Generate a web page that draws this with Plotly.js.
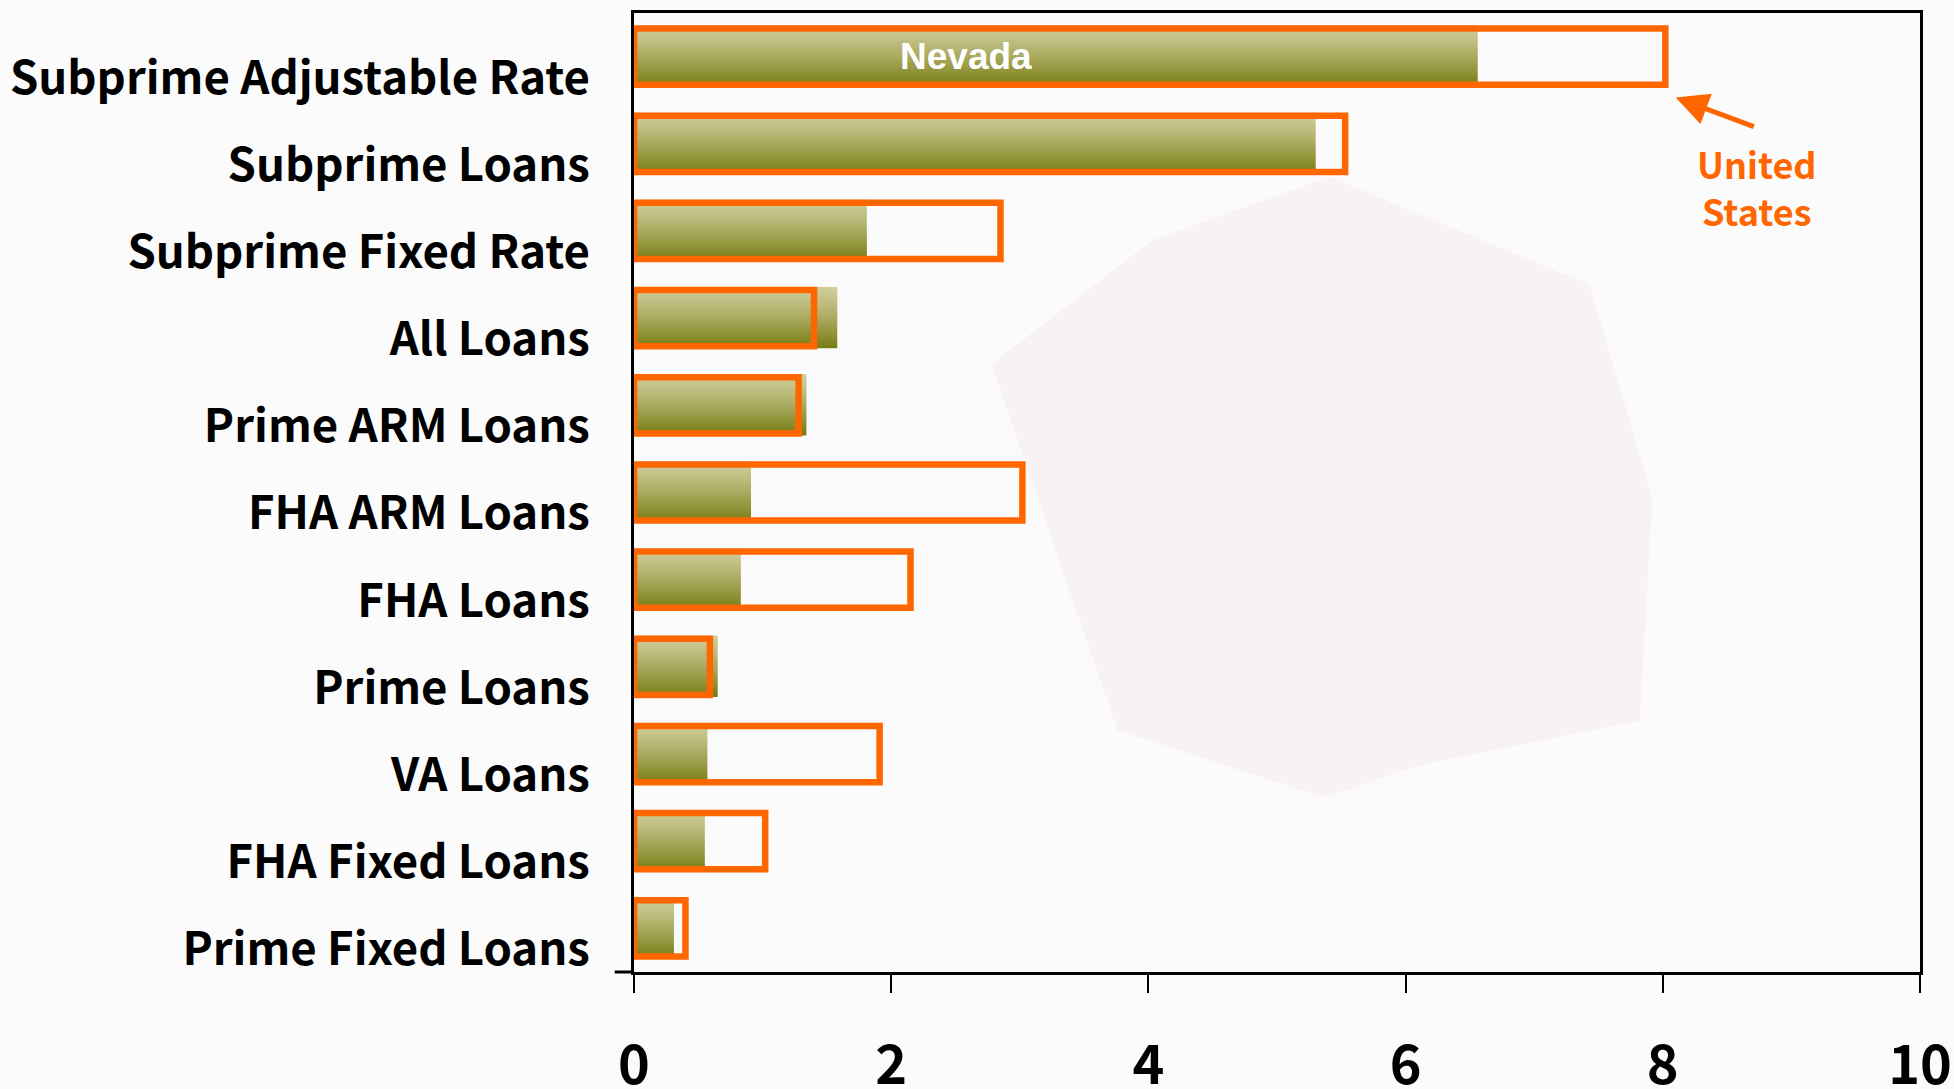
<!DOCTYPE html>
<html>
<head>
<meta charset="utf-8">
<script src="https://cdn.plot.ly/plotly-3.0.1.min.js"></script>
<style>html,body{margin:0;padding:0;background:#fbfbfb;}#chart{width:1954px;height:1089px;}</style>
</head>
<body>
<div id="chart"></div>
<script>
// Categories listed bottom to top
const categories = ["Prime Fixed Loans", "FHA Fixed Loans", "VA Loans", "Prime Loans", "FHA Loans",
  "FHA ARM Loans", "Prime ARM Loans", "All Loans", "Subprime Fixed Rate", "Subprime Loans", "Subprime Adjustable Rate"];
const nevada = [0.31, 0.55, 0.57, 0.65, 0.83, 0.91, 1.34, 1.58, 1.81, 5.30, 6.56];
const unitedStates = [0.40, 1.02, 1.91, 0.59, 2.15, 3.02, 1.28, 1.40, 2.85, 5.53, 8.02];
const xTicks = [0, 2, 4, 6, 8, 10];

// Gradient for Nevada bars built from thin horizontal strips
const nStrips = 30;
const greenWidth = 0.69;
const topCol = [206, 204, 152], botCol = [122, 126, 22];
const traces = [];
for (let i = 0; i < nStrips; i++) {
  const t = i / (nStrips - 1);
  const tt = Math.pow(t, 1.25);
  const c = topCol.map((v, k) => Math.round(v + (botCol[k] - v) * tt));
  const sw = greenWidth / nStrips;
  traces.push({
    type: 'bar', orientation: 'h', y: categories, x: nevada,
    width: sw * 1.5, offset: greenWidth / 2 - (i + 1) * sw,
    marker: {color: 'rgb(' + c.join(',') + ')', line: {width: 0}},
    showlegend: false, hoverinfo: i === 0 ? 'x+y' : 'skip', name: 'Nevada'
  });
}
traces.push({
  type: 'bar', orientation: 'h', y: categories, x: unitedStates,
  width: 0.645, name: 'United States', showlegend: false,
  marker: {color: 'rgba(0,0,0,0)', line: {color: '#ff6600', width: 6.5}}
});

const layout = {
  width: 1954, height: 1089,
  margin: {l: 634, r: 34, t: 13, b: 117},
  paper_bgcolor: '#fbfbfb', plot_bgcolor: 'rgba(0,0,0,0)',
  barmode: 'overlay',
  showlegend: false,
  xaxis: {
    range: [0, 10], tickvals: xTicks, ticktext: xTicks.map(String),
    showgrid: false, zeroline: false,
    showline: true, linecolor: '#000', linewidth: 3, mirror: true,
    ticks: 'outside', ticklen: 18, tickwidth: 2, tickcolor: '#000',
    ticklabelstandoff: 26, ticklabeloverflow: 'allow',
    tickfont: {family: 'Noto Sans CJK KR', size: 54, color: '#000', weight: 'bold'}
  },
  yaxis: {
    type: 'category', categoryorder: 'array', categoryarray: categories,
    range: [-0.5, categories.length - 0.5],
    showgrid: false, zeroline: false,
    showline: true, linecolor: '#000', linewidth: 3, mirror: true,
    ticks: '', ticklabelstandoff: 32, ticklabelshift: 21,
    tickfont: {family: 'Noto Sans CJK KR', size: 45.5, color: '#000', weight: 'bold'}
  },
  shapes: [
    {type: 'path', xref: 'paper', yref: 'paper', layer: 'below',
     path: 'M0.541,0.829 L0.743,0.717 L0.792,0.494 L0.782,0.262 L0.609,0.215 L0.537,0.182 L0.376,0.252 L0.278,0.634 L0.404,0.764 Z',
     fillcolor: '#f8f3f2', line: {width: 0}},
    {type: 'line', xref: 'paper', yref: 'paper', x0: -0.015, x1: 0, y0: 0, y1: 0,
     line: {color: '#000', width: 3}}
  ],
  annotations: [
    {x: 2.58, y: 'Subprime Adjustable Rate', xref: 'x', yref: 'y', text: 'Nevada', showarrow: false,
     font: {family: 'Liberation Sans', size: 37, color: '#ffffff', weight: 'bold'}},
    {x: 8.73, y: 0.819, xref: 'x', yref: 'paper', yanchor: 'middle', xanchor: 'center',
     text: 'United<br>States', showarrow: false,
     font: {family: 'Noto Sans CJK KR', size: 36, color: '#ff6600', weight: 'bold'}},
    {x: 8.10, y: 9.53, xref: 'x', yref: 'y', axref: 'x', ayref: 'y', ax: 8.72, ay: 9.19,
     text: '', showarrow: true, arrowhead: 2, arrowsize: 1.3, arrowwidth: 5, arrowcolor: '#ff6600'}
  ]
};

Plotly.newPlot('chart', traces, layout, {displayModeBar: false, staticPlot: true});
</script>
</body>
</html>
